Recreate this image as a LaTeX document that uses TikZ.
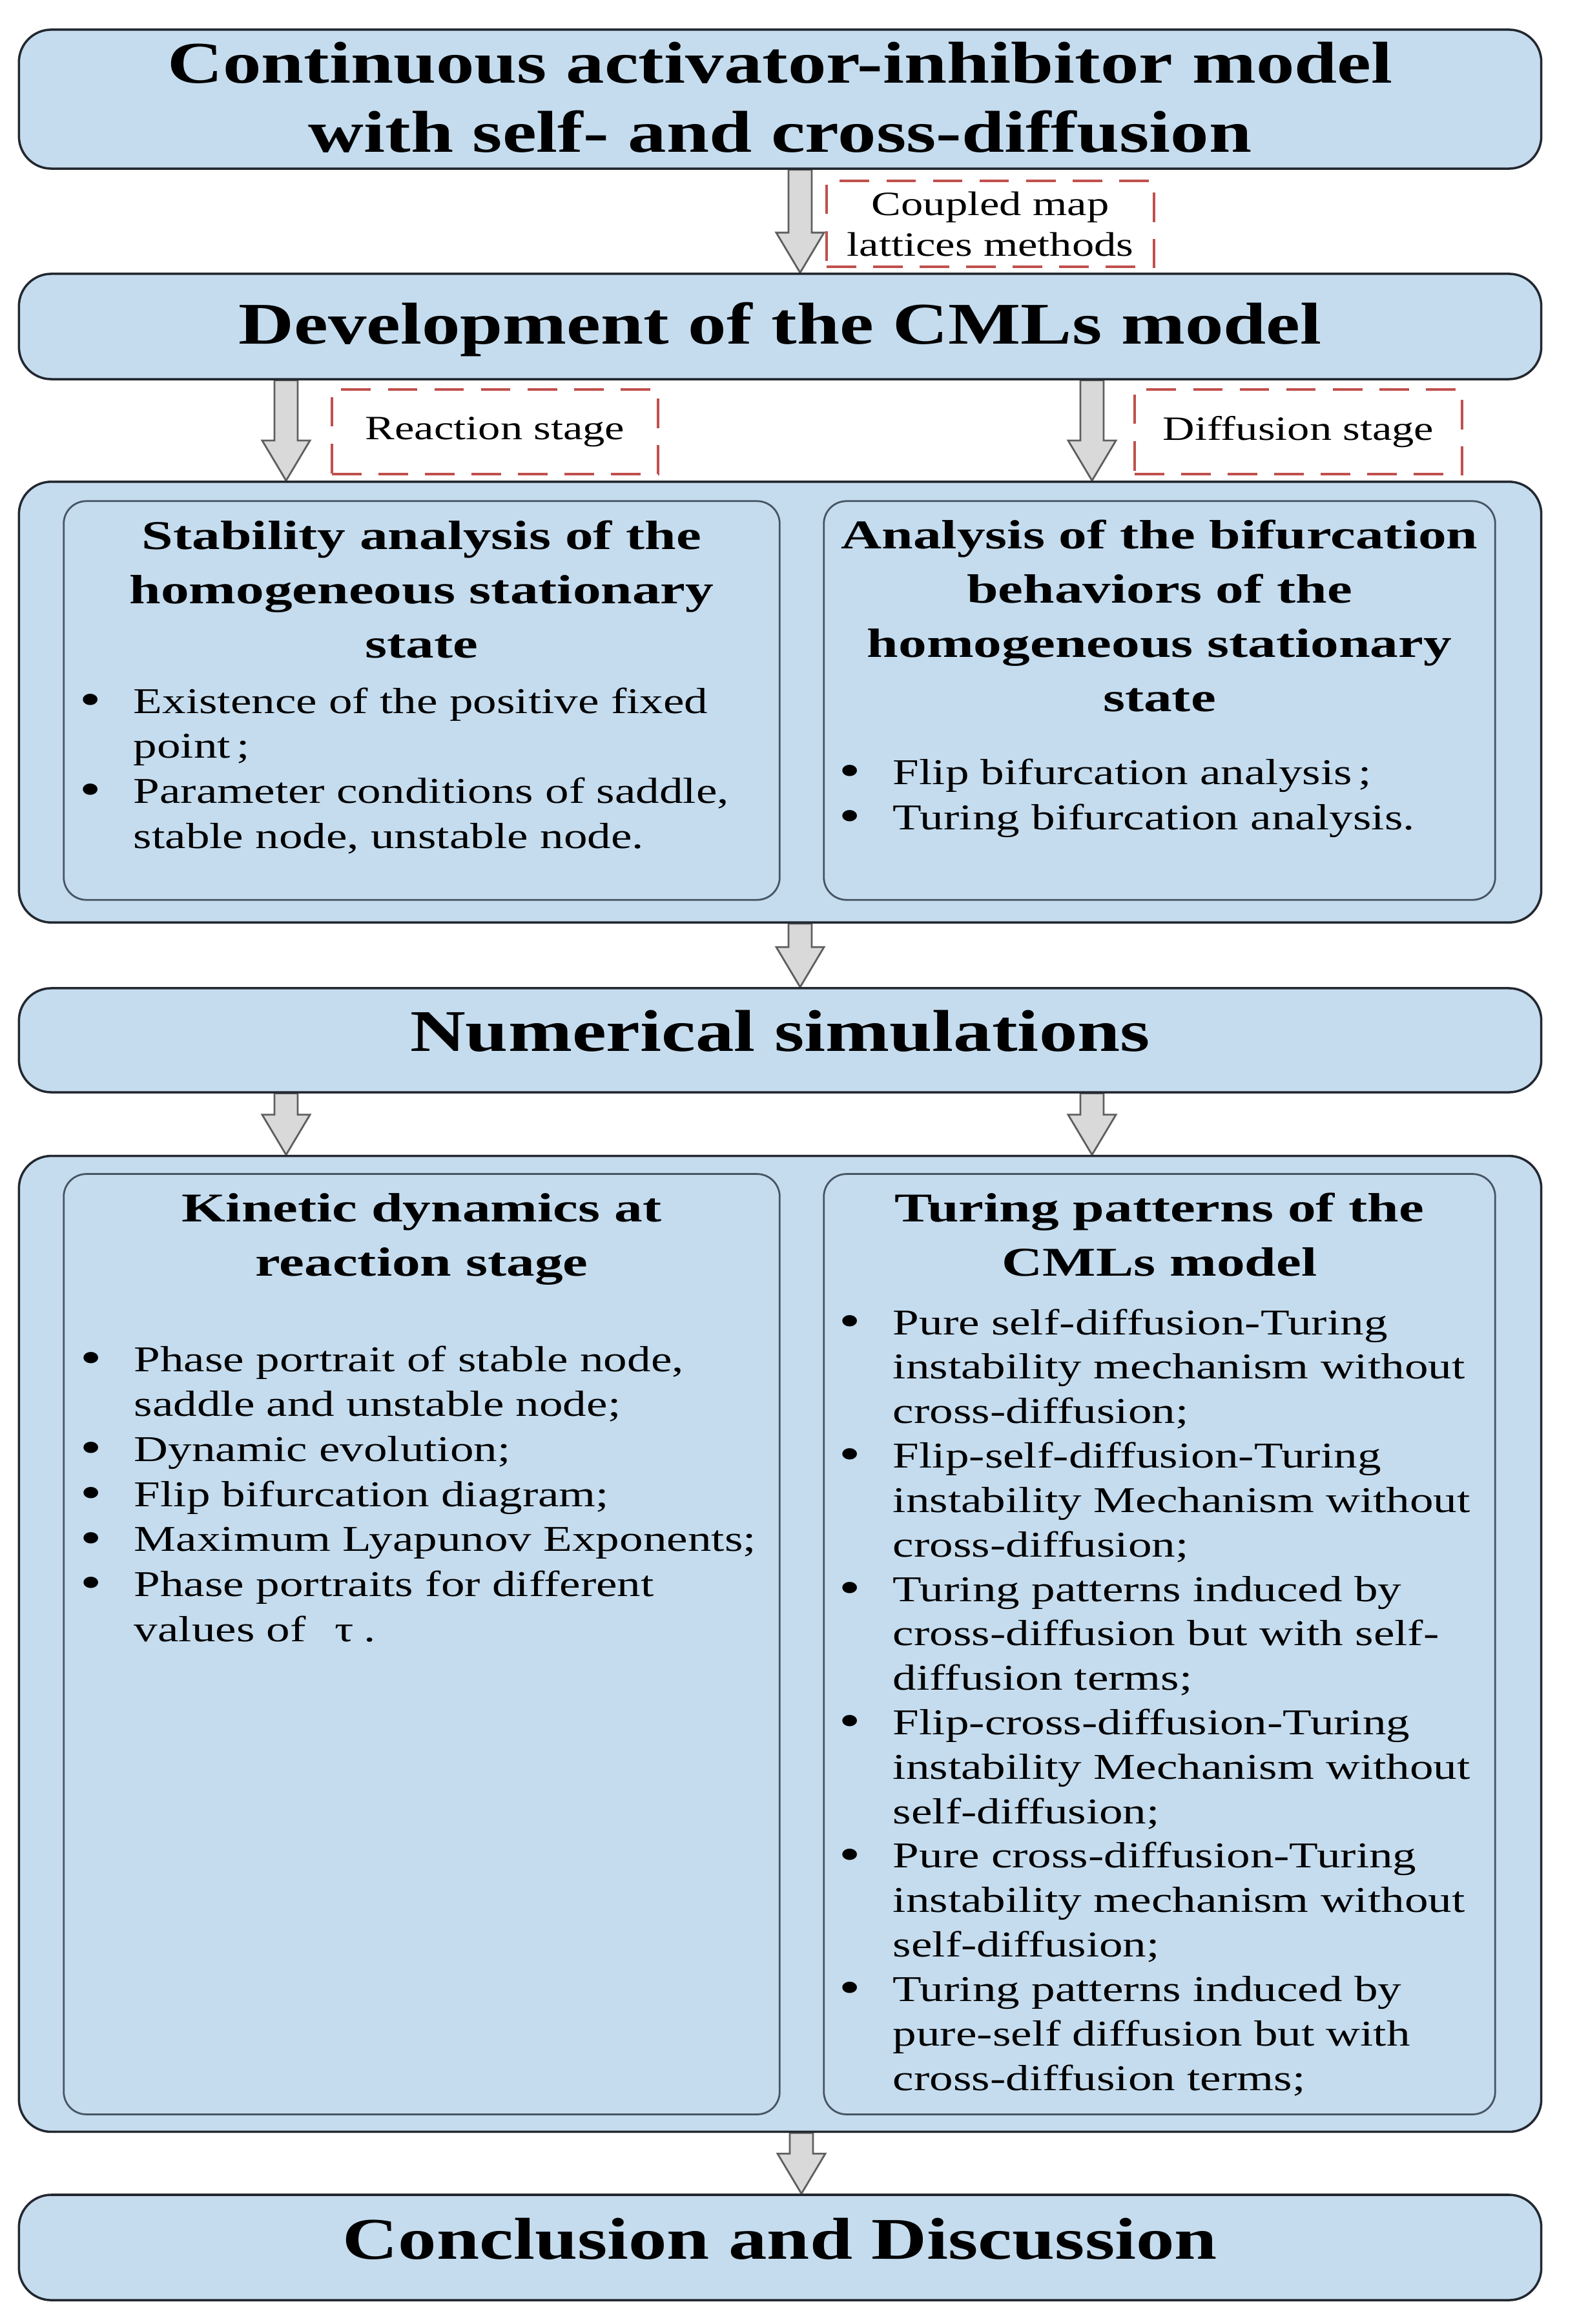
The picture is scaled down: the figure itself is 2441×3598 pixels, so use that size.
\documentclass[tikz,border=0pt]{standalone}
\usepackage{fontspec}
\usepackage{graphicx}
\setmainfont{Liberation Serif}[FakeStretch=1.3]
\newfontfamily\headfont{Liberation Serif}[FakeStretch=1.38]
\usetikzlibrary{calc,backgrounds}

\definecolor{boxblue}{RGB}{197,220,238}
\definecolor{boxline}{RGB}{35,40,48}
\definecolor{innerline}{RGB}{70,85,100}
\definecolor{dashred}{RGB}{192,80,77}
\definecolor{arrowgray}{RGB}{217,217,217}
\definecolor{arrowline}{RGB}{95,95,95}

\tikzset{
  outerbox/.style={draw=boxline, fill=boxblue, line width=1pt, rounded corners=0.5cm, inner sep=0pt},
  innerbox/.style={draw=innerline, fill=boxblue, line width=0.8pt, rounded corners=0.35cm, inner sep=0pt},
  stagebox/.style={draw=dashred, fill=white, line width=1.1pt, dash pattern=on 13pt off 7.5pt,
    inner sep=0pt, align=center, font=\fontsize{15}{17.9}\selectfont},
  titletext/.style={font=\fontsize{26}{30.7}\selectfont\bfseries, align=center, inner sep=0pt, anchor=base},
  headtext/.style={font=\headfont\bfseries\fontsize{18}{23.8}\selectfont, align=center, inner sep=0pt, anchor=base},
  listtext/.style={font=\fontsize{16}{19.8}\selectfont, align=left, inner sep=0pt, anchor=base west},
  blockarrow/.style={draw=arrowline, fill=arrowgray, line width=0.8pt, line join=miter}
}
\newcommand{\bitem}{\makebox[0.83cm][l]{\raisebox{-0.06em}{\scalebox{1.3}{\textbullet}}}}
\newcommand{\bskip}{\hspace*{0.83cm}}
% block arrow from the bottom of #1 to the top of #2, shifted by #3
\newcommand{\flowarrow}[3]{%
  \path[blockarrow] let \p1=($(#1.south)+(#3,0)$), \p2=($(#2.north)+(#3,0)$) in
    (\x1-0.18cm,\y1) -- (\x1+0.18cm,\y1) -- (\x1+0.18cm,\y2+0.62cm) -- (\x1+0.37cm,\y2+0.62cm)
    -- (\x1,\y2) -- (\x1-0.37cm,\y2+0.62cm) -- (\x1-0.18cm,\y2+0.62cm) -- cycle;}

\begin{document}
\begin{tikzpicture}[x=0.01cm, y=-0.01cm]
    \useasboundingbox (0,0) rectangle (2441,3598);

    % Cajas principales (texto anclado en la base de su ultima linea)
    \node[outerbox, minimum width=23.56cm, minimum height=2.15cm] (model) at (1208,153.5) {};
    \node[titletext] (modeltxt) at (1208,236) {Continuous activator-inhibitor model\\with self- and cross-diffusion};

    \node[outerbox, minimum width=23.56cm, minimum height=1.63cm] (cml) at (1208,505.5) {};
    \node[titletext] (cmltxt) at (1208,533) {Development of the CMLs model};

    \node[outerbox, minimum width=23.56cm, minimum height=6.82cm] (analysis) at (1208,1087) {};

    \node[outerbox, minimum width=23.56cm, minimum height=1.61cm] (numsim) at (1208,1610.5) {};
    \node[titletext] (numsimtxt) at (1208,1627) {Numerical simulations};

    \node[outerbox, minimum width=23.56cm, minimum height=15.10cm] (results) at (1208,2545) {};

    \node[outerbox, minimum width=23.56cm, minimum height=1.63cm] (concl) at (1208,3479.5) {};
    \node[titletext] (concltxt) at (1208,3497) {Conclusion and Discussion};

    % Etiquetas de trazo discontinuo
    \node[stagebox, minimum width=5.07cm, minimum height=1.33cm] (coupled) at (1533.5,346.5) {Coupled map\\lattices methods};
    \node[stagebox, minimum width=5.05cm, minimum height=1.31cm] (reaction) at (766.5,668.5) {Reaction stage};
    \node[stagebox, minimum width=5.07cm, minimum height=1.31cm] (diffusion) at (2010.5,668.5) {Diffusion stage};

    % Analisis del estado estacionario
    \node[innerbox, minimum width=11.08cm, minimum height=6.17cm] (stab) at (653,1084.5) {};
    \node[headtext] (stabhead) at (653,1018) {Stability analysis of the\\homogeneous stationary\\state};
    \node[listtext] (stablist) at (123,1313) {\bitem Existence of the positive fixed\\
        \bskip point\,;\\
        \bitem Parameter conditions of saddle,\\
        \bskip stable node, unstable node.};

    \node[innerbox, minimum width=10.39cm, minimum height=6.17cm] (bif) at (1795.5,1084.5) {};
    \node[headtext] (bifhead) at (1795.5,1101) {Analysis of the bifurcation\\behaviors of the\\homogeneous stationary\\state};
    \node[listtext] (biflist) at (1299,1284) {\bitem Flip bifurcation analysis\,;\\
        \bitem Turing bifurcation analysis.};

    % Simulaciones
    \node[innerbox, minimum width=11.08cm, minimum height=14.55cm] (kin) at (653,2545.5) {};
    \node[headtext] (kinhead) at (653,1975) {Kinetic dynamics at\\reaction stage};
    \node[listtext] (kinlist) at (124,2541) {\bitem Phase portrait of stable node,\\
        \bskip saddle and unstable node;\\
        \bitem Dynamic evolution;\\
        \bitem Flip bifurcation diagram;\\
        \bitem Maximum Lyapunov Exponents;\\
        \bitem Phase portraits for different\\
        \bskip values of\hspace{0.45cm}τ\hspace{0.15cm}.};

    \node[innerbox, minimum width=10.39cm, minimum height=14.55cm] (tur) at (1795.5,2545.5) {};
    \node[headtext] (turhead) at (1795.5,1975) {Turing patterns of the\\CMLs model};
    \node[listtext, font=\fontsize{16}{19.57}\selectfont] (turlist) at (1299,3236) {\bitem Pure self-diffusion-Turing\\
        \bskip instability mechanism without\\
        \bskip cross-diffusion;\\
        \bitem Flip-self-diffusion-Turing\\
        \bskip instability Mechanism without\\
        \bskip cross-diffusion;\\
        \bitem Turing patterns induced by\\
        \bskip cross-diffusion but with self-\\
        \bskip diffusion terms;\\
        \bitem Flip-cross-diffusion-Turing\\
        \bskip instability Mechanism without\\
        \bskip self-diffusion;\\
        \bitem Pure cross-diffusion-Turing\\
        \bskip instability mechanism without\\
        \bskip self-diffusion;\\
        \bitem Turing patterns induced by\\
        \bskip pure-self diffusion but with\\
        \bskip cross-diffusion terms;};

    % Flechas
    \begin{pgfonlayer}{background}
    \flowarrow{model}{cml}{31}
    \flowarrow{cml}{analysis}{-765}
    \flowarrow{cml}{analysis}{483}
    \flowarrow{analysis}{numsim}{31}
    \flowarrow{numsim}{results}{-765}
    \flowarrow{numsim}{results}{483}
    \flowarrow{results}{concl}{33}
    \end{pgfonlayer}
\end{tikzpicture}
\end{document}
